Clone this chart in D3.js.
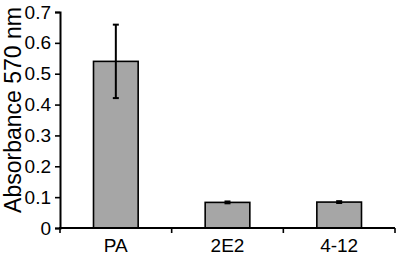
<!DOCTYPE html>
<html><head><meta charset="utf-8">
<script src="https://cdn.jsdelivr.net/npm/d3@7"></script>
<style>body{margin:0;background:#fff}svg{display:block}</style>
</head><body>
<script>
const categories = ["PA", "2E2", "4-12"];
const values = [0.54, 0.083, 0.084];
const errors = [0.119, 0.003, 0.003];
const yTicks = [0, 0.1, 0.2, 0.3, 0.4, 0.5, 0.6, 0.7];
const yLabel = "Absorbance 570 nm";

const W = 400, H = 256;
const svg = d3.select("body").append("svg").attr("width", W).attr("height", H);
const x = d3.scaleBand().domain(categories).range([60, 395]).paddingInner(0).paddingOuter(0);
const y = d3.scaleLinear().domain([0, 0.7]).range([228, 12]);
const font = "Liberation Sans, Arial, sans-serif";

// bars
const bw = x.bandwidth() * 0.4;
svg.selectAll("rect.bar").data(categories).enter().append("rect")
  .attr("x", d => x(d) + x.bandwidth()/2 - bw/2)
  .attr("y", (d,i) => y(values[i]))
  .attr("width", bw)
  .attr("height", (d,i) => y(0) - y(values[i]))
  .attr("fill", "#a6a6a6").attr("stroke", "#000").attr("stroke-width", 1.6);

// error bars
const eg = svg.append("g").attr("stroke", "#000").attr("stroke-width", 2);
categories.forEach((c, i) => {
  const cx = x(c) + x.bandwidth()/2;
  eg.append("line").attr("x1", cx).attr("x2", cx).attr("y1", y(values[i]+errors[i])).attr("y2", y(values[i]-errors[i]));
  eg.append("line").attr("x1", cx-3).attr("x2", cx+3).attr("y1", y(values[i]+errors[i])).attr("y2", y(values[i]+errors[i]));
  eg.append("line").attr("x1", cx-3).attr("x2", cx+3).attr("y1", y(values[i]-errors[i])).attr("y2", y(values[i]-errors[i]));
});

// y axis
const ya = svg.append("g").attr("transform", "translate(60,0)")
  .call(d3.axisLeft(y).tickValues(yTicks).tickFormat(d => d === 0 ? "0" : d3.format(".1f")(d)).tickSizeOuter(0).tickSize(5).tickPadding(4));
ya.select(".domain").attr("stroke-width", 2);
ya.selectAll(".tick line").attr("stroke-width", 1.6);
ya.selectAll("text").attr("font-family", font).attr("font-size", 19).attr("fill", "#000");

// x axis
const xa = svg.append("g").attr("transform", "translate(0,228)");
xa.append("line").attr("x1", 59).attr("x2", 395).attr("y1", 0).attr("y2", 0).attr("stroke", "#000").attr("stroke-width", 2);
const bounds = categories.map(c => x(c)).concat([x(categories[categories.length-1]) + x.bandwidth()]);
xa.selectAll("line.tk").data(bounds).enter().append("line").attr("class","tk")
  .attr("x1", d => d).attr("x2", d => d).attr("y1", 0).attr("y2", 5).attr("stroke", "#000").attr("stroke-width", 1.6);
xa.selectAll("text").data(categories).enter().append("text")
  .attr("x", d => x(d) + x.bandwidth()/2).attr("y", 24)
  .attr("text-anchor", "middle").attr("font-family", font).attr("font-size", 19).text(d => d);

// y label
svg.append("text").attr("transform", "translate(21,110) rotate(-90)")
  .attr("text-anchor", "middle").attr("font-family", font).attr("font-size", 23).text(yLabel);
</script>
</body></html>
